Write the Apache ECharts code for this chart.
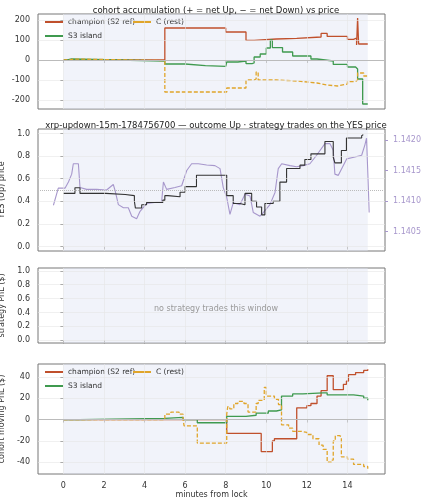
<!DOCTYPE html>
<html><head><meta charset="utf-8">
<script src="https://cdn.jsdelivr.net/npm/echarts@6/dist/echarts.min.js"></script>
<style>html,body{margin:0;background:#fff}#c{width:427px;height:500px}</style>
</head><body><div id="c"></div>
<script>
// accumulation panel: [minute, shares]
var accChampion = [[0,0],[5.0,160],[8.0,140],[9.0,98],[9.4,105],[10.5,108],[11.5,115],[12.7,133],[13.0,118],[14.0,103],[14.3,110],[14.45,75],[14.5,210],[14.55,80],[15.0,80]];
var accS3 = [[0,0],[0.2,5],[0.4,-5],[5.0,-20],[6.0,-28],[7.0,-32],[8.0,-33],[8.05,-10],[8.6,-5],[9.0,-18],[9.3,-15],[9.4,15],[9.7,30],[10.0,60],[10.2,100],[10.3,62],[10.8,40],[11.3,20],[12.2,5],[12.5,-5],[13.3,-22],[14.0,-35],[14.4,-45],[14.5,-95],[14.75,-220],[15.0,-220]];
var accC = [[0,0],[0.3,5],[0.5,-3],[5.0,-160],[8.05,-140],[9.0,-100],[9.4,-95],[9.5,-60],[9.6,-100],[10.5,-105],[11.5,-115],[12.5,-125],[13.0,-130],[13.5,-120],[14.0,-108],[14.4,-100],[14.5,-65],[14.8,-80],[15.0,-80]];

// YES price panel
var yesPrice = [[0,0.47],[0.57,0.52],[0.82,0.47],[2.1,0.46],[3.05,0.45],[3.5,0.40],[3.55,0.34],[3.86,0.37],[4.1,0.39],[4.9,0.41],[5.0,0.45],[5.15,0.44],[5.75,0.48],[6.0,0.53],[6.56,0.63],[8.05,0.45],[8.37,0.38],[8.7,0.37],[8.95,0.47],[9.28,0.40],[9.52,0.35],[9.77,0.28],[9.93,0.38],[10.34,0.40],[10.67,0.57],[11.0,0.69],[11.66,0.72],[11.9,0.77],[12.2,0.82],[12.89,0.93],[13.3,0.79],[13.38,0.74],[13.7,0.85],[13.95,0.96],[14.7,0.98],[14.78,0.99]];
var xrpMinute = [-0.49,-0.25,0.08,0.25,0.41,0.49,0.74,0.82,1.15,1.64,2.13,2.46,2.55,2.71,2.96,3.20,3.37,3.61,3.78,4.11,4.60,4.84,4.93,5.09,5.50,5.83,6.08,6.32,6.65,7.06,7.47,7.72,7.88,8.05,8.21,8.37,8.70,8.95,9.20,9.36,9.69,9.85,10.18,10.43,10.59,10.76,11.17,11.49,11.82,12.15,12.48,12.89,13.14,13.30,13.38,13.55,13.96,14.37,14.70,14.86,14.94,15.02,15.07];
var xrpUsd = [1.14093,1.14121,1.14121,1.14131,1.14144,1.14161,1.14161,1.14122,1.14119,1.14119,1.14118,1.14127,1.14117,1.14094,1.14089,1.14089,1.14075,1.14071,1.14083,1.14096,1.14098,1.14098,1.14131,1.14119,1.14122,1.14125,1.14150,1.14161,1.14161,1.14159,1.14158,1.14153,1.14122,1.14106,1.14078,1.14097,1.14094,1.14111,1.14108,1.14081,1.14075,1.14081,1.14094,1.14114,1.14153,1.14161,1.14158,1.14156,1.14158,1.14161,1.14175,1.14194,1.14194,1.14183,1.14144,1.14142,1.14169,1.14172,1.14175,1.14192,1.14203,1.14131,1.14081];

// moving PnL panel
var pnlChampion = [[0,0],[8.05,-13],[9.75,-30],[10.3,-20],[10.4,-18],[11.5,11],[12.0,13],[12.2,15],[12.5,22],[12.7,27],[13.0,41],[13.3,28],[13.8,33],[13.95,36],[14.05,42],[14.4,44],[14.8,46],[15.0,47]];
var pnlS3 = [[0,0],[0.8,1],[5.0,2],[5.9,0],[6.6,-3],[8.05,3],[9.0,4],[9.5,6],[10.1,8],[10.5,9],[10.75,22],[11.3,24],[11.8,25],[12.8,25],[13.0,23],[14.3,22],[14.8,20],[15.0,18]];
var pnlC = [[0,0],[5.0,5],[5.3,7],[5.7,5],[5.9,0],[5.95,-6],[6.6,-22],[8.05,5],[8.1,12],[8.2,10],[8.4,15],[8.6,17],[8.9,15],[9.1,7],[9.5,15],[9.6,18],[9.9,30],[10.0,22],[10.4,19],[10.6,14],[10.75,-5],[11.1,-8],[11.3,-11],[11.7,-12],[12.0,-14],[12.3,-18],[12.6,-24],[12.8,-28],[13.0,-40],[13.2,-38],[13.3,-20],[13.4,-15],[13.6,-16],[13.7,-35],[14.0,-37],[14.3,-42],[14.8,-44],[15.0,-46]];

var xTicks = [0,2,4,6,8,10,12,14];
var accTicks = [-200,-100,0,100,200];
var probTicks = [0,0.2,0.4,0.6,0.8,1.0];
var pnlTicks = [-40,-20,0,20,40];
var xrpTicks = [1.1405,1.1410,1.1415,1.1420];

var RED = '#c0502c', GREEN = '#3f9a4f', GOLD = '#e0a52a', PURPLE = '#a797cc';
var FONT = 'DejaVu Sans';
var grids = [
  { left: 38, right: 42, top: 14, height: 95 },
  { left: 38, right: 42, top: 129, height: 122 },
  { left: 38, right: 42, top: 268, height: 75 },
  { left: 38, right: 42, top: 364, height: 110 }
];
grids.forEach(function (g) {
  g.show = true; g.borderColor = '#777'; g.borderWidth = 1; g.backgroundColor = '#fff';
  g.containLabel = false; g.outerBoundsMode = 'none';
});

function xAx(i, labels) {
  return {
    type: 'value', gridIndex: i, min: -1.25, max: 15.85,
    axisLine: { show: false },
    axisTick: { customValues: xTicks, length: 3, lineStyle: { color: '#555' } },
    axisLabel: { show: labels, customValues: xTicks, fontSize: 8, color: '#333', fontFamily: FONT },
    splitLine: { show: false },
    name: labels ? 'minutes from lock' : '', nameLocation: 'middle', nameGap: 16,
    nameTextStyle: { fontSize: 8, color: '#333', fontFamily: FONT }
  };
}
function yAx(i, min, max, ticks, name, fmt) {
  return {
    type: 'value', gridIndex: i, min: min, max: max,
    axisLine: { show: false },
    axisTick: { show: true, customValues: ticks, length: 3, lineStyle: { color: '#555' } },
    axisLabel: { customValues: ticks, fontSize: 8, color: '#333', fontFamily: FONT, formatter: fmt },
    splitLine: { show: false },
    name: name, nameLocation: 'middle', nameGap: 24,
    nameTextStyle: { fontSize: 8, color: '#333', fontFamily: FONT }
  };
}
// grid lines + shaded window as a dummy series per panel
function backdrop(i, yTicks, zeroLine) {
  var lines = xTicks.map(function (v) { return { xAxis: v, lineStyle: { color: '#e6e6e6', type: 'solid', width: 0.6 } }; })
    .concat(yTicks.map(function (v) { return { yAxis: v, lineStyle: { color: '#e6e6e6', type: 'solid', width: 0.6 } }; }));
  if (zeroLine !== null) lines.push({ yAxis: zeroLine, lineStyle: { color: '#bbb', type: zeroLine === 0.5 ? 'dotted' : 'solid', width: 1 } });
  return {
    type: 'line', xAxisIndex: i, yAxisIndex: i, data: [], silent: true,
    markArea: { silent: true, itemStyle: { color: 'rgba(225,228,245,0.45)' }, data: [[{ xAxis: 0 }, { xAxis: 15 }]] },
    markLine: { silent: true, symbol: 'none', label: { show: false }, data: lines }
  };
}
function step(name, i, yi, data, color, dashed, w) {
  return {
    name: name, type: 'line', step: 'end', xAxisIndex: i, yAxisIndex: yi, data: data,
    symbol: 'none', lineStyle: { color: color, width: w || 1.3, type: dashed ? [4, 2] : 'solid' },
    itemStyle: { color: color }, z: 3
  };
}
var xrpData = xrpMinute.map(function (t, k) { return [t, xrpUsd[k]]; });

function legends(top) {
  var base = { orient: 'vertical', icon: 'rect', itemWidth: 18, itemHeight: 2, itemGap: 6,
    textStyle: { fontSize: 7.5, color: '#333', fontFamily: FONT }, padding: [3, 4] };
  return [
    Object.assign({}, base, { left: 41, top: top, data: ['champion (S2 ref)', 'S3 island'] }),
    Object.assign({}, base, { left: 129, top: top, data: ['C (rest)'] })
  ];
}
var leg = legends(15).concat(legends(365));
leg[2].data = ['champion (S2 ref) ', 'S3 island '];
leg[3].data = ['C (rest) '];

var chart = echarts.init(document.getElementById('c'), null, { renderer: 'canvas' });
chart.setOption({
  animation: false,
  textStyle: { fontFamily: FONT },
  title: [
    { text: 'cohort accumulation (+ = net Up, − = net Down) vs price', left: 211, textAlign: 'center', top: 1, textStyle: { fontSize: 8.5, fontWeight: 'normal', color: '#222' } },
    { text: 'xrp-updown-15m-1784756700 — outcome Up · strategy trades on the YES price', left: 211, textAlign: 'center', top: 116, textStyle: { fontSize: 8.5, fontWeight: 'normal', color: '#222' } },
    { text: 'no strategy trades this window', left: 211, textAlign: 'center', top: 300, textStyle: { fontSize: 8, fontWeight: 'normal', color: '#999' } }
  ],
  legend: leg,
  grid: grids,
  xAxis: [xAx(0, false), xAx(1, false), xAx(2, false), xAx(3, true)],
  yAxis: [
    yAx(0, -245, 230, accTicks, 'acc. net YES (shares)'),
    yAx(1, -0.04, 1.04, probTicks, 'YES (Up) price', function (v) { return v.toFixed(1); }),
    yAx(2, -0.04, 1.04, probTicks, 'strategy PnL ($)', function (v) { return v.toFixed(1); }),
    yAx(3, -51, 52, pnlTicks, 'cohort moving PnL ($)'),
    {
      type: 'value', gridIndex: 1, position: 'right', min: 1.14018, max: 1.14218,
      axisLine: { show: false }, splitLine: { show: false },
      axisTick: { customValues: xrpTicks, length: 3, lineStyle: { color: PURPLE } },
      axisLabel: { customValues: xrpTicks, fontSize: 8, color: PURPLE, formatter: function (v) { return v.toFixed(4); } },
      name: 'XRP/USD (strike dotted = YES 0.5)', nameLocation: 'middle', nameGap: 33, nameRotate: -90,
      nameTextStyle: { fontSize: 6.5, color: PURPLE }
    }
  ],
  series: [
    backdrop(0, accTicks, 0), backdrop(1, probTicks, 0.5), backdrop(2, probTicks, null), backdrop(3, pnlTicks, 0),
    step('champion (S2 ref)', 0, 0, accChampion, RED),
    step('S3 island', 0, 0, accS3, GREEN),
    step('C (rest)', 0, 0, accC, GOLD, true),
    { type: 'line', xAxisIndex: 1, yAxisIndex: 4, data: xrpData, symbol: 'none', lineStyle: { color: PURPLE, width: 1.1 }, z: 2 },
    step('yes', 1, 1, yesPrice, '#333', false, 1.1),
    step('champion (S2 ref) ', 3, 3, pnlChampion, RED),
    step('S3 island ', 3, 3, pnlS3, GREEN),
    step('C (rest) ', 3, 3, pnlC, GOLD, true)
  ]
});
</script></body></html>
